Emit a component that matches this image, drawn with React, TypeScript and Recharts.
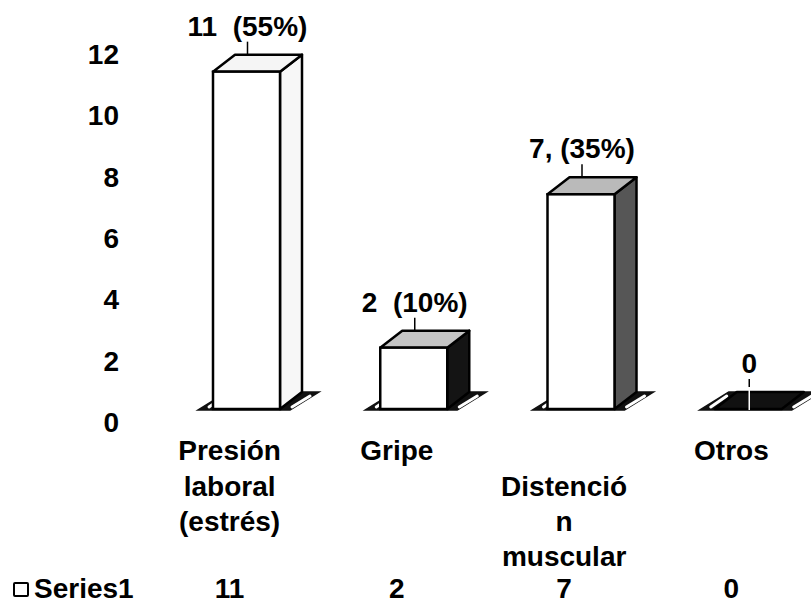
import React from "react";
import { BarChart, Bar, XAxis, YAxis, Legend, LabelList } from "recharts";

const categoryNames = ["Presión laboral (estrés)", "Gripe", "Distención muscular", "Otros"];
const categoryLines = [["Presión", "laboral", "(estrés)"], ["Gripe"], ["", "Distenció", "n", "muscular"], ["Otros"]];
const values = [11, 2, 7, 0];
const barLabels = ["11  (55%)", "2  (10%)", "7, (35%)", "0"];
const yTicks = [0, 2, 4, 6, 8, 10, 12];
const seriesName = "Series1";

const data = categoryNames.map((name, i) => ({ name, value: values[i], label: barLabels[i] }));

const FONT = "'Liberation Sans', Arial, sans-serif";
const DX = 22;
const DY = 17;
const topFill = ["#f5f5f5", "#c4c4c4", "#bababa", "#111111"];
const sideFill = ["#f7f7f7", "#141414", "#565656", "#111111"];

const Bar3D = (props: any) => {
  const { x, y, width, height, index } = props;
  const y0 = y + height;
  const w = width;
  const plate = [
    [x - 15, y0 + 1],
    [x + w + 10, y0 + 1],
    [x + w + 39, y0 - 17],
    [x - 15 + 29, y0 - 17],
  ]
    .map((p) => p.join(","))
    .join(" ");
  const top = `${x},${y} ${x + DX},${y - DY} ${x + w + DX},${y - DY} ${x + w},${y}`;
  const side = `${x + w},${y} ${x + w + DX},${y - DY} ${x + w + DX},${y0 - DY} ${x + w},${y0}`;
  return (
    <g>
      <polygon points={plate} fill="#111" stroke="#111" strokeWidth={1.5} />
      <line x1={x - 4} y1={y0 - 2} x2={x + 12} y2={y0 - 13} stroke="#fff" strokeWidth={3} strokeLinecap="round" />
      <line x1={x + w + 12} y1={y0 - 2} x2={x + w + 30} y2={y0 - 13} stroke="#fff" strokeWidth={3} strokeLinecap="round" />
      {height > 0 && <polygon points={side} fill={sideFill[index]} stroke="#000" strokeWidth={2.5} strokeLinejoin="round" />}
      <polygon points={top} fill={topFill[index]} stroke="#000" strokeWidth={2.5} strokeLinejoin="round" />
      {height > 0 && <rect x={x} y={y} width={w} height={height} fill="#fff" stroke="#000" strokeWidth={2.5} />}
    </g>
  );
};

const BarLabel = (props: any) => {
  const { x, y, width, value, index } = props;
  const cx = x + width / 2 + 1;
  const lineColor = values[index] === 0 ? "#fff" : "#000";
  return (
    <g>
      <line x1={cx} y1={y - 30} x2={cx} y2={values[index] === 0 ? y + 1 : y - DY} stroke={lineColor} strokeWidth={1.5} />
      {values[index] === 0 && <line x1={cx} y1={y - 30} x2={cx} y2={y - 22} stroke="#000" strokeWidth={1.5} />}
      <text
        x={cx}
        y={y - 36}
        textAnchor="middle"
        fontFamily={FONT}
        fontWeight="bold"
        fontSize={28}
        fill="#000"
        style={{ whiteSpace: "pre" }}
      >
        {value}
      </text>
    </g>
  );
};

const XTick = (props: any) => {
  const { x, y, payload } = props;
  const i = payload.index;
  const lines = categoryLines[i];
  const cx = x - 17;
  const lineY = [41, 77, 112, 147];
  return (
    <g>
      {lines.map((t, k) =>
        t ? (
          <text key={k} x={cx} y={y + lineY[k] + 10} textAnchor="middle" fontFamily={FONT} fontWeight="bold" fontSize={28} fill="#000">
            {t}
          </text>
        ) : null
      )}
      <text x={cx} y={y + 179 + 10} textAnchor="middle" fontFamily={FONT} fontWeight="bold" fontSize={28} fill="#000">
        {values[i]}
      </text>
    </g>
  );
};

const YTick = (props: any) => {
  const { y, payload } = props;
  return (
    <text x={119} y={y + 13 + 10} textAnchor="end" fontFamily={FONT} fontWeight="bold" fontSize={28} fill="#000">
      {payload.value}
    </text>
  );
};

const LegendContent = () => (
  <div style={{ display: "flex", alignItems: "center", fontFamily: FONT, fontWeight: "bold", fontSize: 28, color: "#000", lineHeight: "32px" }}>
    <span style={{ display: "inline-block", width: 12, height: 11, border: "2px solid #000", borderRadius: 2, marginRight: 5 }} />
    <span>{seriesName}</span>
  </div>
);

export default function App() {
  return (
    <div style={{ position: "absolute", left: 0, top: 0, width: 811, height: 606, overflow: "hidden", background: "#fff" }}>
      <BarChart width={840} height={606} data={data} margin={{ top: 41, right: 8, bottom: 0, left: 0 }}>
        <XAxis dataKey="name" axisLine={false} tickLine={false} tickSize={0} tickMargin={0} height={197} interval={0} tick={<XTick />} />
        <YAxis domain={[0, 12]} ticks={yTicks} axisLine={false} tickLine={false} tickSize={0} tickMargin={0} width={163} tick={<YTick />} />
        <Legend
          layout="horizontal"
          verticalAlign="middle"
          align="center"
          content={<LegendContent />}
          wrapperStyle={{ position: "absolute", left: 13, top: 573, width: "auto", height: "auto" }}
        />
        <Bar dataKey="value" name={seriesName} barSize={67} isAnimationActive={false} shape={<Bar3D />}>
          <LabelList dataKey="label" content={<BarLabel />} />
        </Bar>
      </BarChart>
    </div>
  );
}
